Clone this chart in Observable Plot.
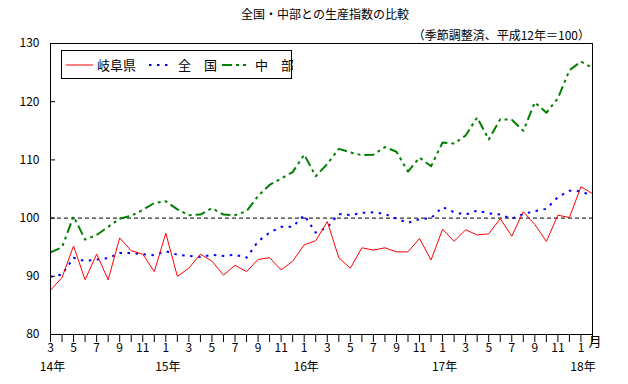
<!DOCTYPE html>
<html><head><meta charset="utf-8">
<script src="https://cdn.jsdelivr.net/npm/d3@7"></script>
<script src="https://cdn.jsdelivr.net/npm/@observablehq/plot@0.6"></script>
<style>
body{margin:0;background:#fff;font-family:"Noto Sans CJK JP","Noto Sans",sans-serif;}
#wrap{position:relative;width:628px;height:384px;}
#title{position:absolute;left:0;width:650px;top:6px;text-align:center;font-size:12px;line-height:16px;}
#sub{position:absolute;right:38px;top:27px;font-size:12px;line-height:16px;}
#legend{position:absolute;left:61px;top:50px;}
</style></head>
<body><div id="wrap">
<div id="chart"></div>
<div id="title">全国・中部との生産指数の比較</div>
<div id="sub">（季節調整済、平成12年＝100）</div>
<svg id="legend" width="232" height="30"></svg>
</div>
<script>
// month numbers, 2014-03 .. 2018-02
const monthNums = [3,4,5,6,7,8,9,10,11,12,1,2,3,4,5,6,7,8,9,10,11,12,1,2,3,4,5,6,7,8,9,10,11,12,1,2,3,4,5,6,7,8,9,10,11,12,1,2];
const yearLabels = ["14年","15年","16年","17年","18年"];
const yearIndex = [0,10,22,34,46];
const yTicks = [80,90,100,110,120,130];
const seriesNames = ["岐阜県","全　国","中　部"];
const gifu = [87.6,89.8,95.2,89.4,93.8,89.4,96.6,94.4,93.8,90.8,97.4,90.0,91.4,93.8,92.6,90.2,91.9,90.8,92.9,93.2,91.1,92.6,95.4,96.1,99.4,93.2,91.4,94.9,94.5,94.9,94.2,94.2,96.5,92.8,98.1,96.0,98.0,97.1,97.3,99.9,96.9,101.1,98.9,96.0,100.5,100.1,105.4,104.2];
const zenkoku = [89.9,90.3,93.2,92.6,92.9,93.1,94.0,94.0,93.8,93.6,94.3,93.7,93.5,93.3,93.7,93.5,93.7,93.2,96.0,97.5,98.5,98.5,100.5,97.5,98.4,100.7,100.5,100.9,101.0,100.7,99.9,99.2,99.8,100.0,101.9,101.0,100.6,101.3,100.8,100.6,99.9,100.7,101.2,101.6,103.6,104.7,104.6,103.8];
const chubu = [94.1,95.0,100.3,96.3,97.1,98.5,99.9,100.4,101.4,102.6,102.9,101.5,100.5,100.6,101.7,100.6,100.5,101.2,103.8,105.7,106.8,107.9,110.9,107.2,109.3,111.9,111.3,110.8,110.9,112.2,111.4,108.0,110.4,108.9,113.0,112.8,114.2,117.3,113.5,117.0,116.9,115.0,119.9,118.1,120.6,125.4,126.9,125.8];
const baseline = [100];

const styles = [
  {stroke:"#ff0000", strokeWidth:1, dash:null},
  {stroke:"#0000ff", strokeWidth:2, dash:"2.5,5.5"},
  {stroke:"#008000", strokeWidth:2, dash:"10,4,3,4,3,4"}
];
const font = '"Noto Sans CJK JP","Noto Sans",sans-serif';

const chart = Plot.plot({
  width: 628, height: 384,
  marginLeft: 50, marginRight: 36, marginTop: 43, marginBottom: 50,
  style: {fontFamily: font, fontSize: "12px", color: "#000", background: "transparent", overflow: "visible"},
  x: {domain: [0, monthNums.length - 1]},
  y: {domain: [80, 130]},
  marks: [
    Plot.ruleY(baseline, {stroke: "#000", strokeWidth: 1, strokeDasharray: "4,3"}),
    Plot.lineY(chubu, {stroke: styles[2].stroke, strokeWidth: styles[2].strokeWidth, strokeDasharray: styles[2].dash, strokeLinecap: "butt"}),
    Plot.lineY(zenkoku, {stroke: styles[1].stroke, strokeWidth: styles[1].strokeWidth, strokeDasharray: styles[1].dash, strokeLinecap: "butt"}),
    Plot.lineY(gifu, {stroke: styles[0].stroke, strokeWidth: styles[0].strokeWidth}),
    Plot.frame({stroke: "#000", strokeWidth: 1}),
    Plot.tickY(yTicks, {y: d => d, stroke: "#000", insetRight: 537}),
    Plot.axisY({ticks: yTicks, tickSize: 0, tickPadding: 11, label: null, fontSize: 12}),
    Plot.axisX({ticks: d3.range(monthNums.length), tickSize: 8, tickPadding: 1,
      tickFormat: i => (i % 2 === 0 ? String(monthNums[i]) : ""), label: null, fontSize: 12}),
    Plot.text(yearLabels, {x: (d, i) => yearIndex[i], text: d => d, frameAnchor: "bottom", dy: 36, dx: 2, fontSize: 12}),
    Plot.text(["月"], {frameAnchor: "bottom-right", dx: 9, dy: 11, fontSize: 13})
  ]
});
document.getElementById("chart").appendChild(chart);

// legend
const lg = d3.select("#legend");
lg.append("rect").attr("x",0.5).attr("y",0.5).attr("width",230).attr("height",28).attr("fill","#fff").attr("stroke","#000");
const items = [
  {x1:5, x2:32, tx:36},
  {x1:88, x2:112, tx:117},
  {x1:161, x2:187, tx:194}
];
items.forEach((it, k) => {
  lg.append("line").attr("x1",it.x1).attr("x2",it.x2).attr("y1",15).attr("y2",15)
    .attr("stroke",styles[k].stroke).attr("stroke-width",styles[k].strokeWidth)
    .attr("stroke-dasharray",styles[k].dash);
  lg.append("text").attr("x",it.tx).attr("y",15).attr("dy","0.35em")
    .attr("font-size",13).attr("font-family",font).text(seriesNames[k]);
});
</script>
</body></html>
